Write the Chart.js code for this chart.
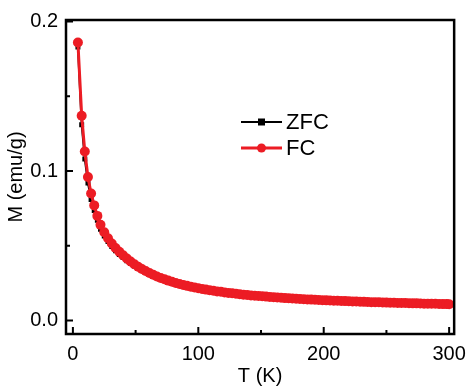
<!DOCTYPE html>
<html>
<head>
<meta charset="utf-8">
<script src="https://cdn.jsdelivr.net/npm/chart.js@4/dist/chart.umd.min.js"></script>
<style>
  html, body { margin: 0; padding: 0; background: #fff; }
  #wrap { width: 474px; height: 392px; }
</style>
</head>
<body>
<div id="wrap"><canvas id="c" width="474" height="392"></canvas></div>
<script>
// temperatures (K)
const temps = [4, 7, 9.5, 12, 14.5, 17, 19.5, 22,
  25, 28, 31, 34, 37, 40, 43, 46, 49, 52, 55, 58, 61, 64, 67, 70, 73, 76, 79, 82, 85, 88,
  91, 94, 97, 100, 103, 106, 109, 112, 115, 118, 121, 124, 127, 130, 133, 136, 139, 142, 145, 148,
  151, 154, 157, 160, 163, 166, 169, 172, 175, 178, 181, 184, 187, 190, 193, 196, 199, 202, 205, 208,
  211, 214, 217, 220, 223, 226, 229, 232, 235, 238, 241, 244, 247, 250, 253, 256, 259, 262, 265, 268,
  271, 274, 277, 280, 283, 286, 289, 292, 295, 298, 300];

// field cooled (emu/g)
const fc = [0.186, 0.137, 0.113, 0.096, 0.085, 0.077, 0.070, 0.064,
  0.059, 0.055, 0.0515, 0.0485, 0.046, 0.0437, 0.0415, 0.0395, 0.0377, 0.036, 0.0345, 0.0331, 0.0318, 0.0306, 0.0295, 0.0285, 0.0276, 0.0267, 0.0259, 0.0251, 0.0244, 0.0238,
  0.0232, 0.0226, 0.0221, 0.0216, 0.0211, 0.0207, 0.0203, 0.0199, 0.0195, 0.0192, 0.0188, 0.0185, 0.0182, 0.0179, 0.0176, 0.0173, 0.0171, 0.0168, 0.0166, 0.0164,
  0.0162, 0.0160, 0.0158, 0.0156, 0.0154, 0.0152, 0.0150, 0.0149, 0.0147, 0.0146, 0.0144, 0.0143, 0.0141, 0.0140, 0.0139, 0.0137, 0.0136, 0.0135, 0.0134, 0.0133,
  0.0132, 0.0131, 0.0130, 0.0129, 0.0128, 0.0127, 0.0126, 0.0125, 0.0124, 0.0123, 0.0122, 0.0122, 0.0121, 0.0120, 0.0119, 0.0119, 0.0118, 0.0117, 0.0117, 0.0116,
  0.0115, 0.0115, 0.0114, 0.0113, 0.0113, 0.0112, 0.0112, 0.0111, 0.0110, 0.0110, 0.0109];

// zero field cooled (emu/g)
const zfc = [0.183, 0.131, 0.108, 0.092, 0.081, 0.0735, 0.067, 0.061,
  0.0565, 0.0528, 0.0495, 0.0466, 0.0442, 0.0421, 0.0400, 0.0381, 0.0364, 0.0348, 0.0334, 0.0321, 0.0309, 0.0297, 0.0287, 0.0277, 0.0268, 0.0260, 0.0252, 0.0244, 0.0237, 0.0231,
  0.0225, 0.0219, 0.0214, 0.0209, 0.0204, 0.0200, 0.0196, 0.0192, 0.0188, 0.0185, 0.0181, 0.0178, 0.0175, 0.0172, 0.0169, 0.0166, 0.0164, 0.0161, 0.0159, 0.0157,
  0.0155, 0.0153, 0.0151, 0.0149, 0.0147, 0.0145, 0.0143, 0.0142, 0.0140, 0.0139, 0.0137, 0.0136, 0.0134, 0.0133, 0.0132, 0.0130, 0.0129, 0.0128, 0.0127, 0.0126,
  0.0125, 0.0124, 0.0123, 0.0122, 0.0121, 0.0120, 0.0119, 0.0118, 0.0117, 0.0116, 0.0115, 0.0115, 0.0114, 0.0113, 0.0112, 0.0112, 0.0111, 0.0110, 0.0110, 0.0109,
  0.0108, 0.0108, 0.0107, 0.0106, 0.0106, 0.0105, 0.0105, 0.0104, 0.0103, 0.0103, 0.0102];

const xTicks = [0, 100, 200, 300];
const xMinor = [50, 150, 250];
const yTicks = [0.0, 0.1, 0.2];
const yMinor = [0.05, 0.15];

const RED = '#ec1c24';
const FONT = 'Liberation Sans, Arial, sans-serif';

function pts(ys){
  return temps.map((t, i) => ({x: t, y: ys[i]}));
}

// frame, inward ticks and the legend
const decor = {
  id: 'decor',
  afterDatasetsDraw(chart){
    const ctx = chart.ctx;
    const a = chart.chartArea;
    const x = chart.scales.x, y = chart.scales.y;
    ctx.save();
    ctx.strokeStyle = '#000';
    ctx.lineWidth = 2.5;
    ctx.strokeRect(a.left, a.top, a.right - a.left, a.bottom - a.top);
    ctx.lineWidth = 2;
    ctx.beginPath();
    xTicks.forEach(v => { const p = x.getPixelForValue(v); ctx.moveTo(p, a.bottom); ctx.lineTo(p, a.bottom - 7); });
    xMinor.forEach(v => { const p = x.getPixelForValue(v); ctx.moveTo(p, a.bottom); ctx.lineTo(p, a.bottom - 4); });
    yTicks.forEach(v => { const p = y.getPixelForValue(v); ctx.moveTo(a.left, p); ctx.lineTo(a.left + 7, p); });
    yMinor.forEach(v => { const p = y.getPixelForValue(v); ctx.moveTo(a.left, p); ctx.lineTo(a.left + 4, p); });
    ctx.stroke();

    // legend
    const items = [
      {label: 'ZFC', color: '#000', square: true, yy: 122},
      {label: 'FC', color: RED, square: false, yy: 148}
    ];
    ctx.font = '22px ' + FONT;
    ctx.textBaseline = 'middle';
    items.forEach(it => {
      ctx.strokeStyle = it.color;
      ctx.fillStyle = it.color;
      ctx.lineWidth = it.square ? 2 : 3;
      ctx.beginPath();
      ctx.moveTo(241, it.yy); ctx.lineTo(282, it.yy);
      ctx.stroke();
      if (it.square) ctx.fillRect(258, it.yy - 3.5, 7, 7);
      else { ctx.beginPath(); ctx.arc(261.5, it.yy, 4.5, 0, Math.PI * 2); ctx.fill(); }
      ctx.fillStyle = '#000';
      ctx.fillText(it.label, 286, it.yy + 1);
    });
    ctx.restore();
  }
};

new Chart(document.getElementById('c').getContext('2d'), {
  type: 'line',
  data: {
    datasets: [
      {
        label: 'ZFC',
        data: pts(zfc),
        borderColor: '#000',
        backgroundColor: '#000',
        borderWidth: 2,
        pointStyle: 'rect',
        pointRadius: 3.5,
        pointBorderWidth: 0,
        order: 1
      },
      {
        label: 'FC',
        data: pts(fc),
        borderColor: RED,
        backgroundColor: RED,
        borderWidth: 3,
        pointStyle: 'circle',
        pointRadius: 5,
        pointBorderWidth: 0,
        order: 0
      }
    ]
  },
  options: {
    responsive: false,
    animation: false,
    layout: { padding: { left: 0, top: 10, right: 14, bottom: 0 } },
    plugins: { legend: { display: false }, tooltip: { enabled: false } },
    scales: {
      x: {
        type: 'linear',
        min: -5.5,
        max: 304,
        grid: { display: false, drawTicks: false },
        border: { display: false },
        afterBuildTicks: s => { s.ticks = xTicks.map(v => ({value: v})); },
        afterFit: s => { s.height = 58; },
        ticks: { color: '#000', padding: 8, maxRotation: 0, font: { family: FONT, size: 20 } },
        title: { display: true, text: 'T (K)', color: '#000', padding: { top: 0 }, font: { family: FONT, size: 20 } }
      },
      y: {
        type: 'linear',
        min: -0.009,
        max: 0.201,
        grid: { display: false, drawTicks: false },
        border: { display: false },
        afterBuildTicks: s => { s.ticks = yTicks.map(v => ({value: v})); },
        afterFit: s => { s.width = 66; },
        ticks: { color: '#000', padding: 8, font: { family: FONT, size: 20 }, callback: v => v.toFixed(1) },
        title: { display: true, text: 'M (emu/g)', color: '#000', padding: { bottom: 0 }, font: { family: FONT, size: 20 } }
      }
    }
  },
  plugins: [decor]
});
</script>
</body>
</html>
